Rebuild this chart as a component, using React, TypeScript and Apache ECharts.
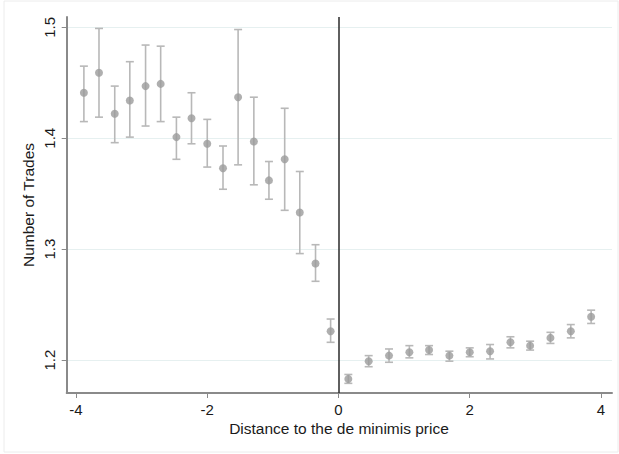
import React, { useEffect, useRef } from "react";
import * as echarts from "echarts";

const binCenters = [
  -3.88, -3.65, -3.41, -3.18, -2.94, -2.71, -2.47, -2.24, -2.0, -1.76, -1.53, -1.29, -1.06, -0.82, -0.59, -0.35, -0.12,
  0.15, 0.46, 0.77, 1.08, 1.38, 1.69, 2.0, 2.31, 2.62, 2.92, 3.23, 3.54, 3.85,
];
const meanTrades = [
  1.441, 1.459, 1.422, 1.434, 1.447, 1.449, 1.401, 1.418, 1.395, 1.373, 1.437, 1.397, 1.362, 1.381, 1.333, 1.287, 1.226,
  1.183, 1.199, 1.204, 1.207, 1.209, 1.204, 1.207, 1.208, 1.216, 1.213, 1.22, 1.226, 1.239,
];
const lowerCI = [
  1.415, 1.419, 1.396, 1.401, 1.411, 1.415, 1.381, 1.395, 1.374, 1.354, 1.376, 1.358, 1.345, 1.335, 1.296, 1.271, 1.216,
  1.179, 1.194, 1.198, 1.202, 1.205, 1.199, 1.203, 1.201, 1.211, 1.209, 1.215, 1.22, 1.233,
];
const upperCI = [
  1.465, 1.499, 1.447, 1.469, 1.484, 1.483, 1.419, 1.441, 1.417, 1.393, 1.498, 1.437, 1.379, 1.427, 1.37, 1.304, 1.237,
  1.187, 1.204, 1.21, 1.213, 1.213, 1.208, 1.211, 1.214, 1.221, 1.217, 1.225, 1.232, 1.245,
];
const xTicks = [-4, -2, 0, 2, 4];
const yTicks = [1.2, 1.3, 1.4, 1.5];
const xTitle = "Distance to the de minimis price";
const yTitle = "Number of Trades";

const FONT = "'Liberation Sans', Arial, Helvetica, sans-serif";

export default function App() {
  const ref = useRef<HTMLDivElement>(null);
  useEffect(() => {
    document.body.style.margin = "0";
    const chart = echarts.init(ref.current!, undefined, { renderer: "svg" });
    const errData = binCenters.map((x, i) => [x, lowerCI[i], upperCI[i]]);
    const dotData = binCenters.map((x, i) => [x, meanTrades[i]]);
    const option: any = {
      animation: false,
      backgroundColor: "#ffffff",
      grid: { left: 66.7, top: 17, right: 7, bottom: 61, containLabel: false },
      xAxis: {
        type: "value",
        min: -4.142,
        max: 4.168,
        axisLine: { show: true, onZero: false, lineStyle: { color: "#8a8a8a", width: 2 } },
        axisTick: { show: true, length: 5, customValues: xTicks, lineStyle: { color: "#8a8a8a", width: 1 } },
        axisLabel: {
          customValues: xTicks,
          margin: 9,
          fontSize: 15,
          fontFamily: FONT,
          color: "#1a1a1a",
        },
        splitLine: { show: false },
      },
      yAxis: {
        type: "value",
        min: 1.1703,
        max: 1.5093,
        axisLine: { show: true, onZero: false, lineStyle: { color: "#8a8a8a", width: 2 } },
        axisTick: { show: true, length: 5, customValues: yTicks, lineStyle: { color: "#8a8a8a", width: 1 } },
        axisLabel: {
          customValues: yTicks,
          rotate: 90,
          margin: 10,
          fontSize: 15,
          fontFamily: FONT,
          color: "#1a1a1a",
          formatter: (v: number) => v.toFixed(1),
        },
        splitLine: { show: true, lineStyle: { color: "#e6f0f0", width: 1 } },
      },
      graphic: [
        {
          type: "rect",
          shape: { x: 4, y: 1, width: 614, height: 451 },
          style: { fill: "none", stroke: "#ececec", lineWidth: 1 },
          silent: true,
          z: -10,
        },
        {
          type: "text",
          x: 339,
          y: 428,
          style: {
            text: xTitle,
            fontSize: 15.5,
            fontFamily: FONT,
            fill: "#1a1a1a",
            align: "center",
            verticalAlign: "middle",
          },
        },
        {
          type: "text",
          x: 28.5,
          y: 205,
          rotation: Math.PI / 2,
          style: {
            text: yTitle,
            fontSize: 15.5,
            fontFamily: FONT,
            fill: "#1a1a1a",
            align: "center",
            verticalAlign: "middle",
          },
        },
      ],
      series: [
        {
          type: "custom",
          data: errData,
          z: 2,
          renderItem: (params: any, api: any) => {
            const x = api.value(0);
            const lo = api.coord([x, api.value(1)]);
            const hi = api.coord([x, api.value(2)]);
            const hw = 4;
            const style = { stroke: "#b8b8b8", lineWidth: 1.6, fill: "none" };
            return {
              type: "group",
              children: [
                { type: "line", shape: { x1: lo[0], y1: lo[1], x2: hi[0], y2: hi[1] }, style },
                { type: "line", shape: { x1: lo[0] - hw, y1: lo[1], x2: lo[0] + hw, y2: lo[1] }, style },
                { type: "line", shape: { x1: hi[0] - hw, y1: hi[1], x2: hi[0] + hw, y2: hi[1] }, style },
              ],
            };
          },
        },
        {
          type: "scatter",
          data: dotData,
          symbol: "circle",
          symbolSize: 8,
          z: 3,
          itemStyle: { color: "#9b9b9b" },
          markLine: {
            silent: true,
            symbol: "none",
            label: { show: false },
            lineStyle: { color: "#2a2a2a", width: 1.5, type: "solid" },
            data: [{ xAxis: 0 }],
          },
        },
      ],
    };
    chart.setOption(option);
    return () => chart.dispose();
  }, []);
  return <div ref={ref} style={{ width: 619, height: 454 }} />;
}
